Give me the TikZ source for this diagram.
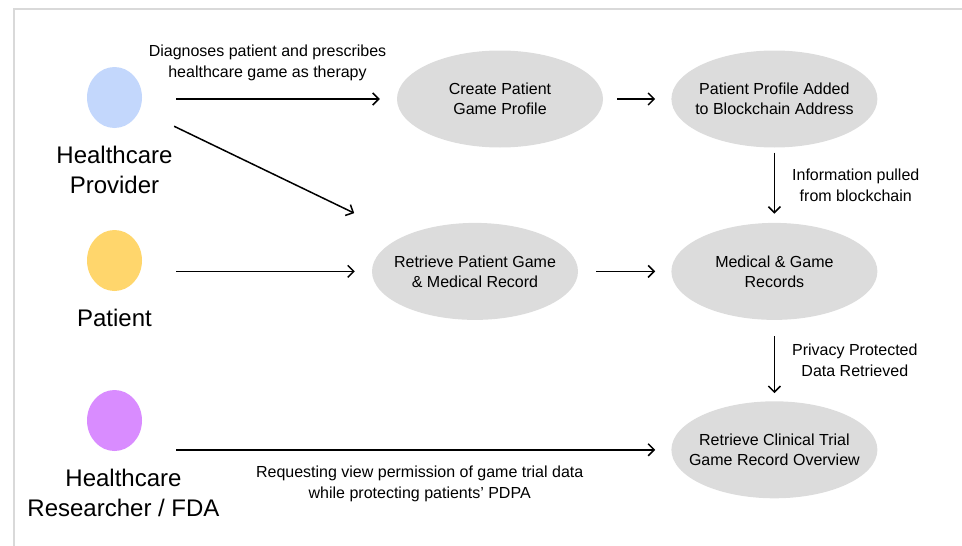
\documentclass[tikz,border=0pt]{standalone}
\usepackage{fontspec}
\setmainfont{Liberation Sans}
\usetikzlibrary{shapes.geometric, arrows.meta, positioning}
\definecolor{pblue}{HTML}{C3D7FC}
\definecolor{pyellow}{HTML}{FFD66C}
\definecolor{ppurp}{HTML}{D98CFF}
\definecolor{pgray}{HTML}{DCDCDC}
\definecolor{fgray}{HTML}{D9D9D9}
\tikzstyle{actor} = [ellipse, minimum width=55pt, minimum height=61pt, inner sep=0pt]
\tikzstyle{role} = [align=center, inner sep=0pt, font=\fontsize{24}{30}\selectfont]
\tikzstyle{stage} = [ellipse, minimum width=206pt, minimum height=97pt, inner xsep=-30pt, inner ysep=0pt, fill=pgray, align=center, font=\fontsize{16}{20}\selectfont]
\tikzstyle{note} = [align=center, inner sep=0pt, font=\fontsize{16}{21}\selectfont]
\tikzstyle{link} = [line width=1.5pt, ->, >={Straight Barb[length=6pt, width=12pt]}]

\begin{document}
\begin{tikzpicture}[x=1pt, y=-1pt, node distance=18pt]
\useasboundingbox (0,0) rectangle (962,546);
\draw [fgray, line width=2pt] (962,9) -- (14,9) -- (14,546);
% people
\node (prov) [actor, fill=pblue] at (114.5,97.5) {};
\node (provname) [role, below=of prov] {Healthcare\\Provider};
\node (pat) [actor, fill=pyellow] at (114.5,260.5) {};
\node (patname) [role, below=of pat] {Patient};
\node (res) [actor, fill=ppurp] at (114.5,420.5) {};
\node (resname) [role, below=of res, xshift=9pt] {Healthcare\\Researcher / FDA};
% steps
\node (create) [stage] at (500,99) {Create Patient\\Game Profile};
\node (added) [stage, right=68pt of create] {Patient Profile Added\\to Blockchain Address};
\node (records) [stage, below=75pt of added] {Medical \& Game\\Records};
\node (clinical) [stage, below=81pt of records] {Retrieve Clinical Trial\\Game Record Overview};
\node (retrieve) [stage, left=93pt of records] {Retrieve Patient Game\\\& Medical Record};
% arrows
\draw [link, shorten <=34pt, shorten >=17pt] (prov.east |- create.west) -- node[note, above=17pt, xshift=-2pt]{Diagnoses patient and prescribes\\healthcare game as therapy} (create.west);
\draw [link, shorten <=38pt, shorten >=54pt] (prov) -- (retrieve);
\draw [link, shorten <=34pt, shorten >=17pt] (pat.east |- retrieve.west) -- (retrieve.west);
\draw [link, shorten <=34pt, shorten >=16pt] (res.east |- clinical.west) -- node[note, below=15pt, xshift=13pt]{Requesting view permission of game trial data\\while protecting patients' PDPA} (clinical.west);
\draw [link, shorten <=14pt, shorten >=16pt] (create) -- (added);
\draw [link, shorten <=18pt, shorten >=16pt] (retrieve) -- (records);
\draw [link, shorten <=5pt, shorten >=9pt] (added) -- node[note, right=17pt]{Information pulled\\from blockchain} (records);
\draw [link, shorten <=16pt, shorten >=8pt] (records) -- node[note, right=17pt]{Privacy Protected\\Data Retrieved} (clinical);
\end{tikzpicture}
\end{document}
